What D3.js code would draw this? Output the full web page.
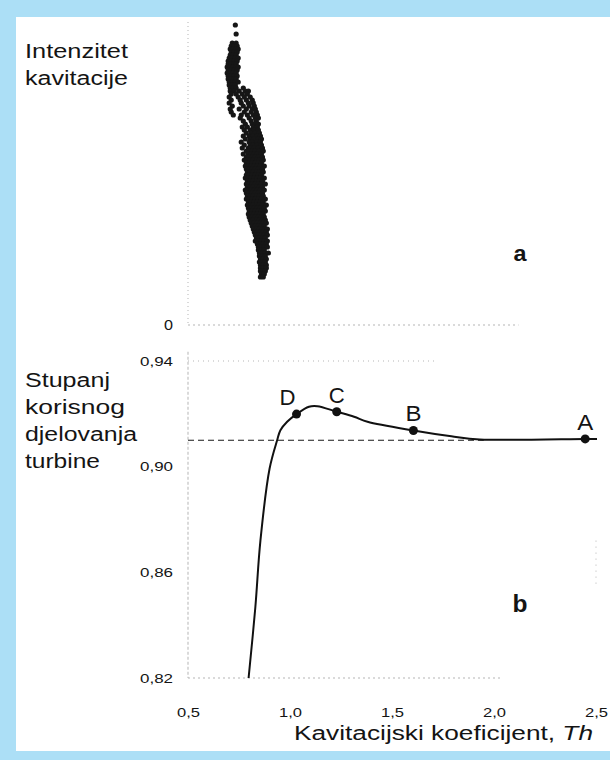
<!DOCTYPE html>
<html>
<head>
<meta charset="utf-8">
<script src="https://cdn.jsdelivr.net/npm/d3@7"></script>
<style>
  html, body { margin: 0; padding: 0; background: #fff; }
  svg { display: block; }
  text { font-family: "Liberation Sans", Arial, sans-serif; fill: #141414; }
</style>
</head>
<body>
<svg id="chart" width="610" height="760"></svg>
<script>
// Axis ticks
const thTicks = [0.5, 1.0, 1.5, 2.0, 2.5];
const thTickLabels = ["0,5", "1,0", "1,5", "2,0", "2,5"];
const etaTicks = [0.82, 0.86, 0.90, 0.94];
const etaTickLabels = ["0,82", "0,86", "0,90", "0,94"];

// Efficiency curve (Th, eta)
const curveTh  = [0.797, 0.830, 0.855, 0.900, 0.937, 0.953, 0.986, 1.032, 1.093, 1.134, 1.229, 1.314, 1.380, 1.605, 1.791, 1.930, 2.447, 2.505];
const curveEta = [0.820, 0.8467, 0.872, 0.8993, 0.910, 0.9138, 0.917, 0.9199, 0.9227, 0.9229, 0.9208, 0.9189, 0.9170, 0.9137, 0.9115, 0.9103, 0.9105, 0.9105];

// Marked operating points
const pointNames = ["D", "C", "B", "A"];
const pointTh    = [1.032, 1.229, 1.605, 2.447];
const pointEta   = [0.9199, 0.9208, 0.9137, 0.9105];

// Reference efficiency level (dashed)
const refEta = 0.910;
const refTh = [0.5, 1.95];

// Cavitation intensity measurements: intensity level -> Th values observed at that level
const intensityLevels = [100, 97, 94, 93, 92, 91, 90, 89, 88, 87, 86, 85, 84, 83, 82, 81, 80, 79, 78, 77, 76, 75, 74, 73, 72, 71, 70, 69, 68, 67, 66, 65, 64, 63, 62, 61, 60, 59, 58, 57, 56, 55, 54, 53, 52, 51, 50, 49, 48, 47, 46, 45, 44, 43, 42, 41, 40, 39, 38, 37, 36, 35, 34, 33, 32, 31, 30, 29, 28, 27, 26, 25, 24, 23, 22, 21, 20, 19, 18, 17, 16];
const intensityTh = [
  [0.732],
  [0.736],
  [0.717, 0.736],
  [0.712, 0.727, 0.741],
  [0.707, 0.722, 0.736, 0.746],
  [0.712, 0.727, 0.741],
  [0.707, 0.722, 0.736],
  [0.702, 0.717, 0.732, 0.746],
  [0.697, 0.712, 0.727, 0.741],
  [0.697, 0.712, 0.727, 0.736],
  [0.692, 0.707, 0.722, 0.736, 0.746],
  [0.697, 0.712, 0.727, 0.741],
  [0.692, 0.707, 0.722, 0.736],
  [0.697, 0.712, 0.727, 0.741],
  [0.697, 0.712, 0.727, 0.736],
  [0.702, 0.717, 0.732, 0.746],
  [0.702, 0.717, 0.732],
  [0.707, 0.722, 0.736, 0.771],
  [0.707, 0.727, 0.751, 0.781, 0.796],
  [0.712, 0.736, 0.766, 0.791],
  [0.702, 0.746, 0.776, 0.805],
  [0.712, 0.756, 0.786, 0.815],
  [0.702, 0.761, 0.796, 0.820],
  [0.717, 0.771, 0.800, 0.825],
  [0.707, 0.751, 0.786, 0.815, 0.830],
  [0.712, 0.776, 0.810, 0.835],
  [0.722, 0.761, 0.791, 0.820, 0.840],
  [0.756, 0.800, 0.830, 0.845],
  [0.771, 0.810, 0.835],
  [0.781, 0.815, 0.830, 0.845],
  [0.766, 0.791, 0.820, 0.840],
  [0.776, 0.805, 0.825, 0.845],
  [0.786, 0.810, 0.830, 0.850],
  [0.771, 0.800, 0.820, 0.840, 0.855],
  [0.781, 0.805, 0.825, 0.845, 0.860],
  [0.761, 0.800, 0.815, 0.835, 0.855],
  [0.776, 0.805, 0.820, 0.840, 0.860],
  [0.766, 0.796, 0.810, 0.825, 0.845, 0.865],
  [0.786, 0.800, 0.815, 0.830, 0.850, 0.869],
  [0.771, 0.796, 0.810, 0.825, 0.840, 0.860],
  [0.786, 0.800, 0.815, 0.830, 0.845, 0.865],
  [0.776, 0.791, 0.805, 0.820, 0.835, 0.850, 0.869],
  [0.786, 0.800, 0.815, 0.830, 0.845, 0.860],
  [0.781, 0.796, 0.810, 0.825, 0.840, 0.855, 0.874],
  [0.786, 0.800, 0.815, 0.830, 0.845, 0.865],
  [0.791, 0.805, 0.820, 0.835, 0.850, 0.869],
  [0.786, 0.800, 0.815, 0.830, 0.845, 0.860],
  [0.781, 0.796, 0.810, 0.825, 0.840, 0.855, 0.874],
  [0.791, 0.805, 0.820, 0.835, 0.850, 0.865],
  [0.786, 0.800, 0.815, 0.830, 0.845, 0.860, 0.879],
  [0.791, 0.805, 0.820, 0.835, 0.850, 0.865],
  [0.781, 0.796, 0.810, 0.825, 0.840, 0.855, 0.874],
  [0.786, 0.800, 0.815, 0.830, 0.845, 0.865],
  [0.791, 0.805, 0.820, 0.835, 0.850, 0.869],
  [0.786, 0.800, 0.815, 0.830, 0.845, 0.860, 0.879],
  [0.796, 0.810, 0.825, 0.840, 0.855, 0.869],
  [0.791, 0.805, 0.820, 0.835, 0.850, 0.865, 0.884],
  [0.796, 0.810, 0.825, 0.840, 0.855, 0.874],
  [0.800, 0.815, 0.830, 0.845, 0.860, 0.879],
  [0.796, 0.810, 0.825, 0.840, 0.855, 0.869],
  [0.800, 0.815, 0.830, 0.845, 0.860, 0.874],
  [0.805, 0.820, 0.835, 0.850, 0.865, 0.879],
  [0.810, 0.825, 0.840, 0.855, 0.869, 0.884],
  [0.815, 0.830, 0.845, 0.860, 0.874],
  [0.820, 0.835, 0.850, 0.865, 0.879, 0.889],
  [0.825, 0.840, 0.855, 0.869, 0.884],
  [0.830, 0.845, 0.860, 0.874, 0.889],
  [0.835, 0.850, 0.865, 0.879],
  [0.830, 0.845, 0.860, 0.874, 0.889],
  [0.840, 0.855, 0.869, 0.884],
  [0.845, 0.860, 0.874, 0.889],
  [0.845, 0.860, 0.874],
  [0.850, 0.865, 0.879, 0.894],
  [0.850, 0.865, 0.879],
  [0.855, 0.869, 0.884],
  [0.850, 0.865, 0.879],
  [0.855, 0.869, 0.884],
  [0.855, 0.869, 0.884],
  [0.855, 0.869, 0.879],
  [0.860, 0.874],
  [0.855, 0.869]
];

const svg = d3.select("#chart");
const W = 610, H = 760;
const frame = "#acdff6";

// light-blue frame on the left, top and bottom of the white sheet
svg.append("rect").attr("width", W).attr("height", H).attr("fill", frame);
svg.append("rect").attr("x", 16).attr("y", 17).attr("width", W - 16).attr("height", 734).attr("fill", "#fff");

// Shared Th scale
const x = d3.scaleLinear().domain([0.5, 2.5]).range([188, 596]);
// Panel a: intensity
const yA = d3.scaleLinear().domain([0, 100]).range([325, 25]);
// Panel b: efficiency
const yB = d3.scaleLinear().domain([0.82, 0.94]).range([678, 361]);

const faint = "#b5b5b5";

// text helper: the lettering is set a little wide, so each label gets its width
function label(g, str, px, py, size, width, opts = {}) {
  const t = g.append("text")
    .attr("x", px).attr("y", py)
    .attr("text-anchor", opts.anchor || "start")
    .style("font-size", size + "px");
  if (opts.bold) t.style("font-weight", "bold");
  if (width) t.attr("textLength", width).attr("lengthAdjust", "spacingAndGlyphs");
  t.text(str);
  return t;
}

// ---- Panel a ----
const gA = svg.append("g");
gA.append("line")
  .attr("x1", x(0.5)).attr("x2", x(0.5))
  .attr("y1", yA(101)).attr("y2", yA(0))
  .attr("stroke", faint).attr("stroke-width", 1).attr("stroke-dasharray", "1,3");
gA.append("line")
  .attr("x1", x(0.5)).attr("x2", x(2.12))
  .attr("y1", yA(0)).attr("y2", yA(0))
  .attr("stroke", faint).attr("stroke-width", 1).attr("stroke-dasharray", "2,3");

label(gA, "0", 173, yA(0) + 5, 14, 9, { anchor: "end" });

const scatterPts = [];
intensityLevels.forEach((lvl, i) => {
  intensityTh[i].forEach(th => scatterPts.push({ th, lvl }));
});
gA.append("g").selectAll("circle")
  .data(scatterPts)
  .join("circle")
  .attr("cx", d => x(d.th))
  .attr("cy", d => yA(d.lvl))
  .attr("r", 2.6)
  .attr("fill", "#161616");

label(gA, "Intenzitet", 25, 58, 20, 103);
label(gA, "kavitacije", 25, 85, 20, 103);
label(gA, "a", 520, 261, 22, 13, { anchor: "middle", bold: true });

// ---- Panel b ----
const gB = svg.append("g");
gB.append("line")
  .attr("x1", x(0.5)).attr("x2", x(0.5))
  .attr("y1", yB(0.9435)).attr("y2", yB(0.82))
  .attr("stroke", faint).attr("stroke-width", 1).attr("stroke-dasharray", "3,2");
gB.append("line")
  .attr("x1", x(0.5)).attr("x2", x(1.72))
  .attr("y1", yB(0.94)).attr("y2", yB(0.94))
  .attr("stroke", faint).attr("stroke-width", 1).attr("stroke-dasharray", "1,4");
gB.append("line")
  .attr("x1", x(0.5)).attr("x2", x(2.03))
  .attr("y1", yB(0.82)).attr("y2", yB(0.82))
  .attr("stroke", faint).attr("stroke-width", 1).attr("stroke-dasharray", "2,3");
gB.append("line")
  .attr("x1", x(2.5)).attr("x2", x(2.5))
  .attr("y1", yB(0.872)).attr("y2", yB(0.855))
  .attr("stroke", faint).attr("stroke-width", 1).attr("stroke-dasharray", "1,5");

// y ticks (labels only, the axis itself is drawn faint above)
gB.append("g")
  .attr("transform", `translate(${x(0.5) - 15},0)`)
  .call(d3.axisLeft(yB).tickValues(etaTicks).tickFormat((d, i) => etaTickLabels[i]).tickSize(0).tickPadding(0))
  .call(g => g.select(".domain").remove())
  .call(g => g.selectAll("text")
    .style("font-family", "Liberation Sans, Arial, sans-serif")
    .style("font-size", "13px").attr("fill", "#222")
    .attr("textLength", 33).attr("lengthAdjust", "spacingAndGlyphs"));

// x ticks
gB.append("g")
  .attr("transform", `translate(0,${yB(0.82) + 30})`)
  .call(d3.axisBottom(x).tickValues(thTicks).tickFormat((d, i) => thTickLabels[i]).tickSize(0).tickPadding(0))
  .call(g => g.select(".domain").remove())
  .call(g => g.selectAll("text")
    .style("font-family", "Liberation Sans, Arial, sans-serif")
    .style("font-size", "13px").attr("fill", "#222")
    .attr("textLength", 23).attr("lengthAdjust", "spacingAndGlyphs"));

// dashed reference level
gB.append("line")
  .attr("x1", x(refTh[0])).attr("x2", x(refTh[1]))
  .attr("y1", yB(refEta)).attr("y2", yB(refEta))
  .attr("stroke", "#1a1a1a").attr("stroke-width", 1.2).attr("stroke-dasharray", "6,4");

// efficiency curve
const curveData = curveTh.map((t, i) => [t, curveEta[i]]);
gB.append("path")
  .datum(curveData)
  .attr("fill", "none")
  .attr("stroke", "#111")
  .attr("stroke-width", 2)
  .attr("d", d3.line().x(d => x(d[0])).y(d => yB(d[1])).curve(d3.curveCatmullRom.alpha(0.5)));

// operating points
const pts = pointNames.map((n, i) => ({ n, th: pointTh[i], eta: pointEta[i] }));
gB.append("g").selectAll("circle")
  .data(pts).join("circle")
  .attr("cx", d => x(d.th)).attr("cy", d => yB(d.eta))
  .attr("r", 4.5).attr("fill", "#111");
const ptLabels = gB.append("g");
pts.forEach(d => {
  label(ptLabels, d.n, x(d.th) - (d.n === "D" ? 9 : 0), yB(d.eta) - 9, 22, 16, { anchor: "middle" });
});

label(gB, "b", 520, 612, 23, 15, { anchor: "middle", bold: true });

const yLabel = ["Stupanj", "korisnog", "djelovanja", "turbine"];
const yLabelWidths = [85, 100, 112, 75];
yLabel.forEach((s, i) => label(gB, s, 25, 387 + i * 27, 20, yLabelWidths[i]));

const xt = gB.append("text")
  .attr("x", 294).attr("y", 740)
  .attr("textLength", 299).attr("lengthAdjust", "spacingAndGlyphs")
  .style("font-size", "20px");
xt.append("tspan").text("Kavitacijski koeficijent, ");
xt.append("tspan").style("font-style", "italic").text("Th");
</script>
</body>
</html>
